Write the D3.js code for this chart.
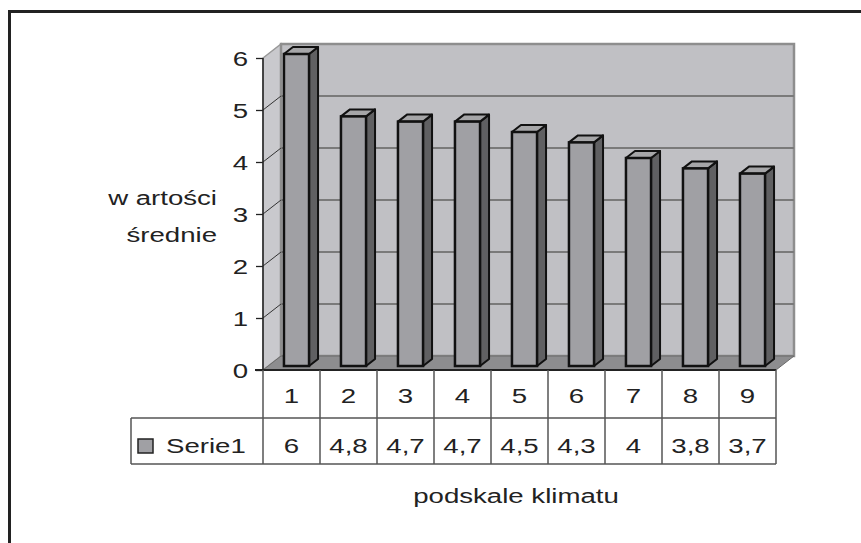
<!DOCTYPE html>
<html><head><meta charset="utf-8">
<script src="https://cdn.jsdelivr.net/npm/d3@7"></script>
<style>body{margin:0;background:#fff}svg{display:block;font-family:"Liberation Sans",Arial,sans-serif}</style>
</head><body>
<script>
const categories = ["1","2","3","4","5","6","7","8","9"];
const values = [6, 4.8, 4.7, 4.7, 4.5, 4.3, 4, 3.8, 3.7];
const valueLabels = ["6","4,8","4,7","4,7","4,5","4,3","4","3,8","3,7"];
const yTicks = [0,1,2,3,4,5,6];
const seriesName = "Serie1";
const yTitle = ["w artości","średnie"];
const xTitle = "podskale klimatu";

const W = 861, H = 543;
const SX = 1.38; // horizontal text stretch seen in the reference
const svg = d3.select("body").append("svg").attr("width", W).attr("height", H);

function stext(parent, x, y, txt, anchor){
  return parent.append("text").attr("transform",`translate(${x},${y}) scale(${SX},1)`)
    .attr("text-anchor", anchor||"middle").attr("font-size",20).attr("fill","#222").text(txt);
}

// outer frame
svg.append("rect").attr("x",9.5).attr("y",11.5).attr("width",W+20).attr("height",H+20)
  .attr("fill","#fff").attr("stroke","#222").attr("stroke-width",3);

const x = d3.scaleBand().domain(categories).range([263, 776]).padding(0);
const y = d3.scaleLinear().domain([0, 6]).range([370, 58]);
const DX = 18, DY = -14;       // wall depth
const FDX = 5, FDY = -4;       // bar front offset
const BDX = 9, BDY = -7;       // bar depth
const barW = x.bandwidth() * 0.44;
const x0 = x.range()[0], x1 = x.range()[1];
const yTop = y(6), yBot = y(0);

// side wall
svg.append("polygon")
  .attr("points", [[x0,yTop],[x0+DX,yTop+DY],[x0+DX,yBot+DY],[x0,yBot]].join(" "))
  .attr("fill","#c9c9cd").attr("stroke","#999").attr("stroke-width",1.5);
// back wall
svg.append("rect").attr("x",x0+DX).attr("y",yTop+DY).attr("width",x1-x0).attr("height",yBot-yTop)
  .attr("fill","#c0c0c4").attr("stroke","#8e8e8e").attr("stroke-width",2.5);
// floor
svg.append("polygon")
  .attr("points", [[x0,yBot],[x0+DX,yBot+DY],[x1+DX,yBot+DY],[x1,yBot]].join(" "))
  .attr("fill","#8d8d8f").attr("stroke","#6a6a6a").attr("stroke-width",1);

// gridlines
const grid = yTicks.filter(t => t > 0 && t < 6);
svg.append("g").selectAll("line").data(grid).join("line")
  .attr("x1",x0+DX).attr("x2",x1+DX).attr("y1",d=>y(d)+DY).attr("y2",d=>y(d)+DY)
  .attr("stroke","#7a7a7a").attr("stroke-width",2);
svg.append("g").selectAll("line").data(grid).join("line")
  .attr("x1",x0).attr("x2",x0+DX).attr("y1",d=>y(d)).attr("y2",d=>y(d)+DY)
  .attr("stroke","#333").attr("stroke-width",1);

// bars
const bars = svg.append("g").selectAll("g").data(categories.map((c,i)=>({c,v:values[i]}))).join("g");
bars.each(function(d){
  const g = d3.select(this);
  const xl = x(d.c) + x.bandwidth()/2 - barW/2 + FDX, xr = xl + barW;
  const yt = y(d.v) + FDY, yb = y(0) + FDY;
  g.append("polygon").attr("points",[[xr,yt],[xr+BDX,yt+BDY],[xr+BDX,yb+BDY],[xr,yb]].join(" "))
    .attr("fill","#606062").attr("stroke","#111").attr("stroke-width",2).attr("stroke-linejoin","round");
  g.append("polygon").attr("points",[[xl,yt],[xl+BDX,yt+BDY],[xr+BDX,yt+BDY],[xr,yt]].join(" "))
    .attr("fill","#a6a6a8").attr("stroke","#111").attr("stroke-width",2).attr("stroke-linejoin","round");
  g.append("rect").attr("x",xl).attr("y",yt).attr("width",barW).attr("height",yb-yt)
    .attr("fill","#a0a0a4").attr("stroke","#111").attr("stroke-width",2.5);
});

// y axis
const yAxis = d3.axisLeft(y).tickValues(yTicks).tickSize(7).tickFormat(d3.format("d"));
const ga = svg.append("g").attr("transform",`translate(${x0},0)`).call(yAxis);
ga.select(".domain").attr("stroke","#222").attr("stroke-width",1.5).attr("d",`M0,${yTop}V${yBot}`);
ga.selectAll(".tick line").attr("stroke","#222").attr("stroke-width",1.3);
ga.selectAll(".tick text").attr("x",null).attr("dy",null)
  .attr("transform",`translate(-15,7) scale(${SX},1)`)
  .attr("font-size",20).attr("fill","#222").attr("font-family","Liberation Sans, Arial, sans-serif");
// baseline
svg.append("line").attr("x1",x0-8).attr("x2",x1).attr("y1",yBot).attr("y2",yBot).attr("stroke","#222").attr("stroke-width",2);

// y title
const yt = svg.append("g");
yTitle.forEach((t,i)=> stext(yt, 217, 205 + i*37, t, "end"));

// data table
const rowTop = yBot, rowMid = 418, rowBot = 464, legLeft = 131;
const tg = svg.append("g").attr("stroke","#555").attr("stroke-width",1.5);
tg.append("line").attr("x1",legLeft).attr("x2",x1).attr("y1",rowMid).attr("y2",rowMid);
tg.append("line").attr("x1",legLeft).attr("x2",x1).attr("y1",rowBot).attr("y2",rowBot);
tg.append("line").attr("x1",legLeft).attr("x2",legLeft).attr("y1",rowMid).attr("y2",rowBot);
tg.selectAll("line.col").data(categories.concat(["end"])).join("line").attr("class","col")
  .attr("x1",d=>d==="end"?x1:x(d)).attr("x2",d=>d==="end"?x1:x(d))
  .attr("y1",rowTop).attr("y2",rowBot);

const cg = svg.append("g");
categories.forEach(c => stext(cg, x(c)+x.bandwidth()/2, 403, c));
const vg = svg.append("g");
valueLabels.forEach((v,i) => stext(vg, x(categories[i])+x.bandwidth()/2, 453, v));

// legend key
svg.append("rect").attr("x",138).attr("y",439).attr("width",15).attr("height",14)
  .attr("fill","#a0a0a4").attr("stroke","#222").attr("stroke-width",1.5);
stext(svg, 166, 453, seriesName, "start");

// x title
stext(svg, 516, 503, xTitle);
</script>
</body></html>
